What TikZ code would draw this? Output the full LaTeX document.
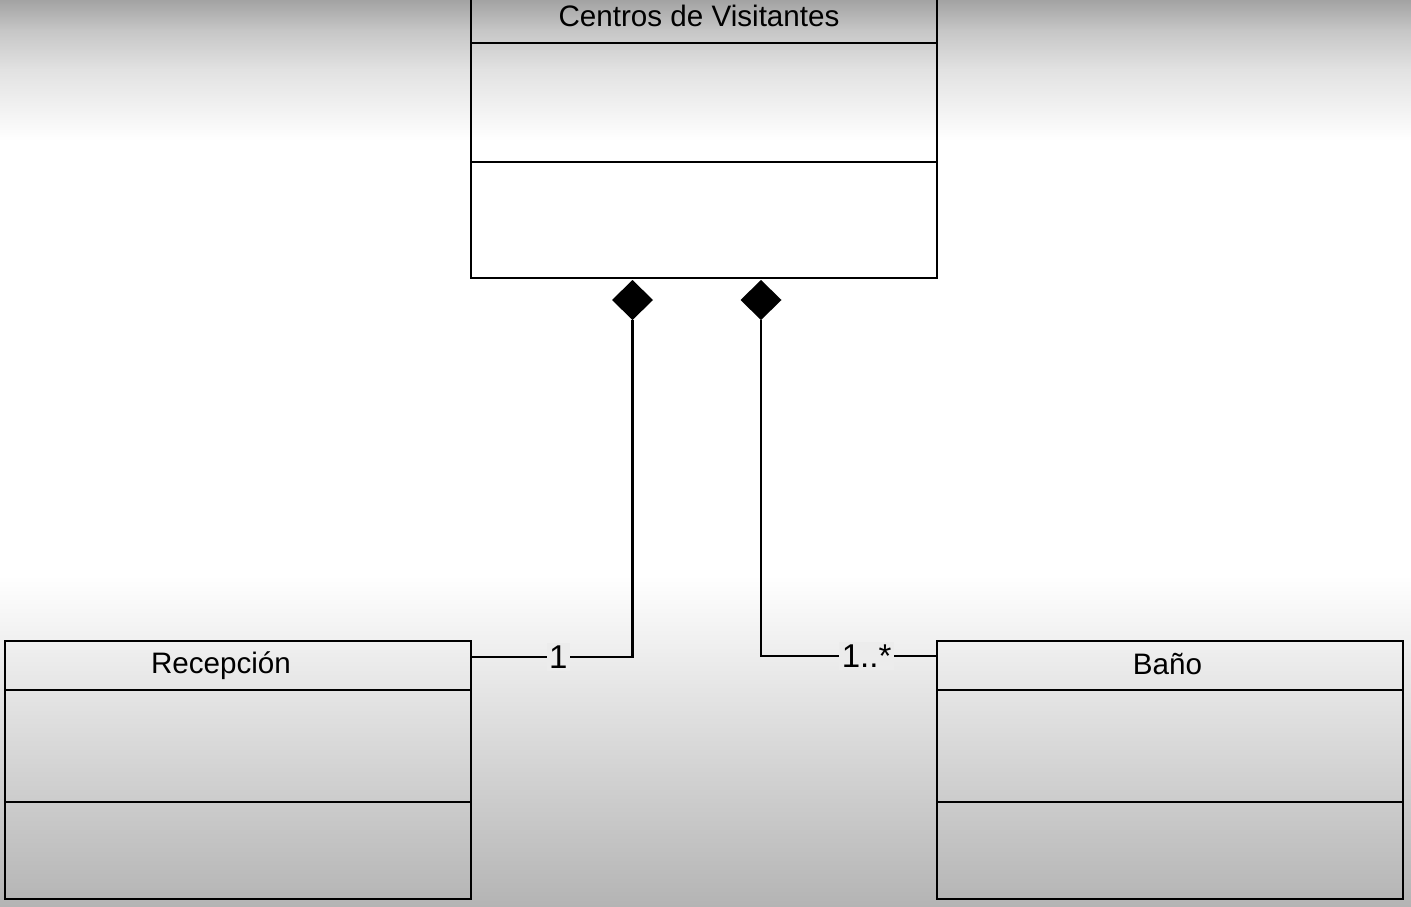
\documentclass[tikz,border=0pt]{standalone}
\usepackage{fontspec}
\setmainfont{Liberation Sans}
\usetikzlibrary{shapes.geometric}
\definecolor{bgA}{RGB}{163,163,163}
\definecolor{bgB}{RGB}{198,198,198}
\definecolor{bgC}{RGB}{226,226,226}
\definecolor{bgD}{RGB}{180,180,180}
\definecolor{lblbg}{RGB}{236,236,236}
\begin{document}
\begin{tikzpicture}[x=1pt,y=-1pt,
  box/.style={draw=black,line width=2.6pt,inner sep=0pt,outer sep=0pt,anchor=north west,minimum width=466pt},
  title/.style={font=\fontsize{29.6}{34}\selectfont,inner sep=0pt,anchor=base},
  comp/.style={shape=diamond,fill=black,inner sep=0pt,outer sep=0pt,minimum width=41pt,minimum height=40pt},
  conn/.style={line width=2.6pt},
  mult/.style={font=\fontsize{33}{36}\selectfont,fill=lblbg,inner sep=2.5pt}
]
\useasboundingbox (0,0) rectangle (1411,907);
% background
\shade[top color=bgA,bottom color=bgB] (0,0) rectangle (1411,30.5);
\shade[top color=bgB,bottom color=bgC] (0,30) rectangle (1411,70.5);
\shade[top color=bgC,bottom color=white] (0,70) rectangle (1411,140.5);
\fill[white] (0,140) rectangle (1411,575.5);
\shade[top color=white,bottom color=bgD] (0,575) rectangle (1411,907);
% Centros de Visitantes
\node[box,minimum height=49pt] (cvH) at (471,-6) {};
\node[box,minimum height=119pt] (cvA) at (471,43) {};
\node[box,minimum height=116pt] (cvO) at (471,162) {};
\node[title] (cvT) at (699,27) {Centros de Visitantes};
% Recepcion
\node[box,minimum height=49pt] (recH) at (5,641) {};
\node[box,minimum height=112pt] (recA) at (5,690) {};
\node[box,minimum height=97pt] (recO) at (5,802) {};
\node[title] (recT) at (221,673) {Recepción};
% Bano
\node[box,minimum height=49pt] (banH) at (937,641) {};
\node[box,minimum height=112pt] (banA) at (937,690) {};
\node[box,minimum height=97pt] (banO) at (937,802) {};
\node[title] (banT) at (1167.5,674) {Baño};
% composition diamonds
\node[comp] (d1) at (632.5,300) {};
\node[comp] (d2) at (761,300) {};
\coordinate (recEnd) at (471,657);
\coordinate (banEnd) at (937,656);
\draw[conn] (d1.south) |- node[mult,pos=0.73] (m1) {1} (recEnd);
\draw[conn] (d2.south) |- node[mult,pos=0.80] (m2) {1..*} (banEnd);
\end{tikzpicture}
\end{document}
